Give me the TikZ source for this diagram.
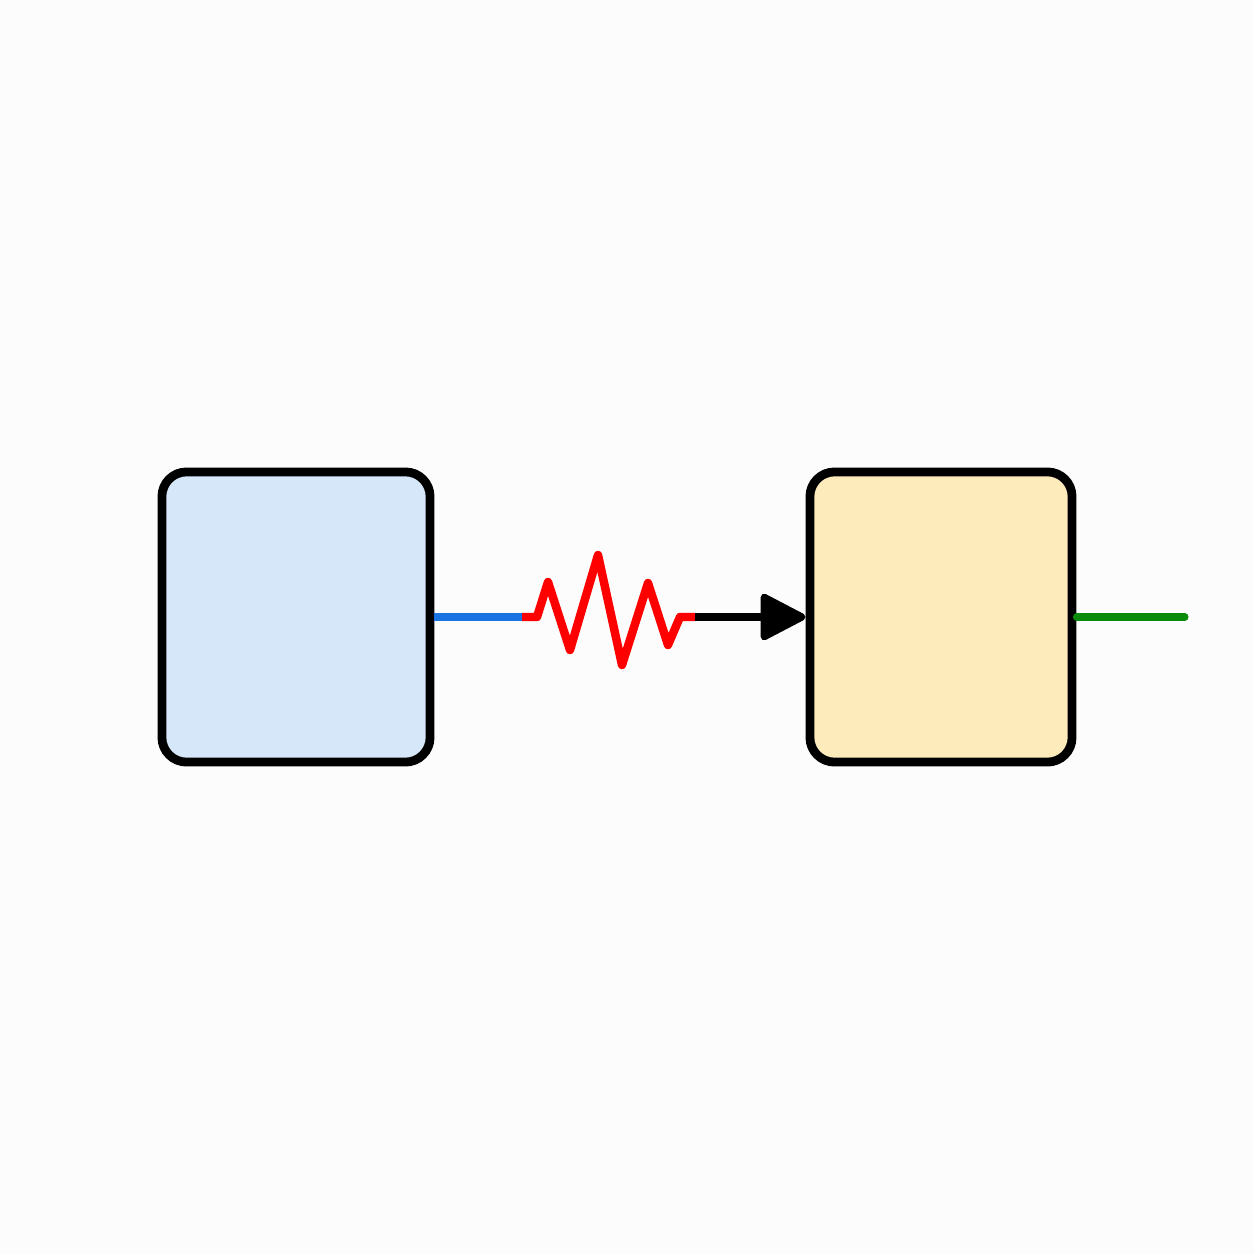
\documentclass[tikz,border=0pt]{standalone}
\usetikzlibrary{arrows.meta}
\definecolor{lblue}{HTML}{D5E7F9}
\definecolor{lyel}{HTML}{FEEBBC}
\definecolor{cblue}{HTML}{1874E0}
\definecolor{cgreen}{HTML}{0A8A0A}
\tikzset{blk/.style={draw=black,line width=2.5pt,rounded corners=7pt},
 wire/.style={line width=2pt}}
\begin{document}
\begin{tikzpicture}[x=0.01cm,y=-0.01cm]
\useasboundingbox[fill=white!98!gray] (0,0) rectangle (1254,1254);
\node[blk,fill=lblue,minimum width=2.68cm,minimum height=2.9cm] (a) at (296,617) {};
\node[blk,fill=lyel,minimum width=2.62cm,minimum height=2.9cm] (b) at (941,617) {};
\coordinate (r1) at (522,617);
\coordinate (r2) at (695,617);
\coordinate (g) at (1185,617);
\draw[wire,cblue] (a.east) -- (r1);
\draw[wire,red,line width=2.4pt,line join=round] (r1) -- (537,617) -- (548,582) -- (570,650) -- (598,555) -- (622,665) -- (648,583) -- (668,645) -- (680,617) -- (r2);
\draw[wire,black,-{Triangle[length=14pt,width=14pt,round]}] (r2) -- (b.west);
\draw[wire,cgreen,line cap=round] (b.east) -- (g);
\end{tikzpicture}
\end{document}
